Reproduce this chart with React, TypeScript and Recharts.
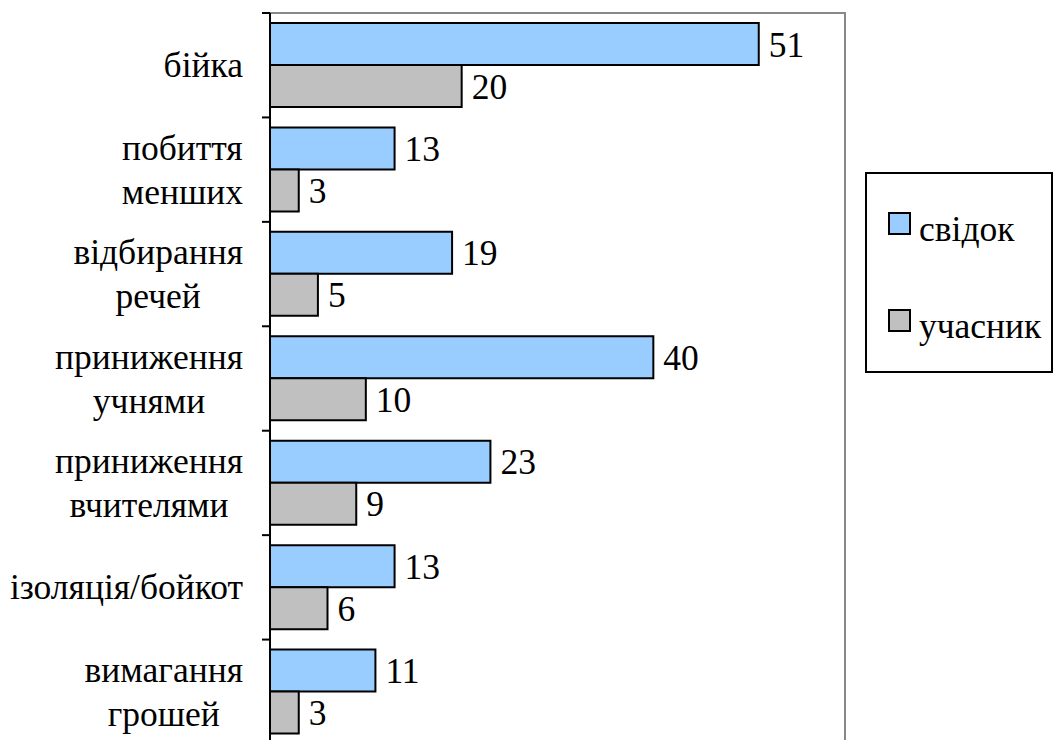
import React from 'react';
import { BarChart, Bar, XAxis, YAxis, LabelList, ReferenceArea } from 'recharts';

const categories = [
  'бійка',
  'побиття\nменших',
  'відбирання\nречей',
  'приниження\nучнями',
  'приниження\nвчителями',
  'ізоляція/бойкот',
  'вимагання\nгрошей',
];
const witness = [51, 13, 19, 40, 23, 13, 11];
const participant = [20, 3, 5, 10, 9, 6, 3];
const seriesNames = ['свідок', 'учасник'];
const seriesColors = ['#99CCFF', '#C0C0C0'];
const xDomain = [0, 60];

const data = categories.map((c, i) => ({ name: c, witness: witness[i], participant: participant[i] }));

const FONT = '"Times New Roman", Tinos, "Liberation Serif", serif';
const FS = 35.5;

const CatTick = (props: any) => {
  const { x, y, payload } = props;
  const lines = String(payload.value).split('\n');
  const lh = 44;
  const half = payload.offset ?? 52;
  const top = y - half;
  const boxH = lines.length * lh;
  return (
    <g>
      <line x1={x - 8} x2={x} y1={top} y2={top} stroke="#000" strokeWidth={2} />
      <foreignObject x={0} y={y - boxH / 2} width={x - 27} height={boxH}>
        <div
          style={{
            display: 'flex',
            justifyContent: 'flex-end',
            fontFamily: FONT,
            fontSize: FS,
            lineHeight: `${lh}px`,
            color: '#000',
          }}
        >
          <div style={{ textAlign: 'center', whiteSpace: 'nowrap' }}>
            {lines.map((l, i) => (
              <div key={i}>{l}</div>
            ))}
          </div>
        </div>
      </foreignObject>
    </g>
  );
};

const Legend = () => (
  <div
    style={{
      position: 'absolute',
      left: 865,
      top: 172,
      width: 188,
      height: 201,
      boxSizing: 'border-box',
      border: '2px solid #000',
      background: '#fff',
      fontFamily: FONT,
      fontSize: FS,
      lineHeight: 1,
    }}
  >
    {seriesNames.map((n, i) => (
      <React.Fragment key={n}>
        <div
          style={{
            position: 'absolute',
            left: 21,
            top: 38 + i * 97,
            width: 23,
            height: 23,
            boxSizing: 'border-box',
            border: '2px solid #000',
            background: seriesColors[i],
          }}
        />
        <div style={{ position: 'absolute', left: 52, top: 38 + i * 97, whiteSpace: 'nowrap' }}>{n}</div>
      </React.Fragment>
    ))}
  </div>
);

export default function App() {
  return (
    <div
      style={{
        position: 'absolute',
        left: 0,
        top: 0,
        width: 1061,
        height: 740,
        overflow: 'hidden',
        background: '#fff',
        fontFamily: FONT,
      }}
    >
      <BarChart
        width={1061}
        height={760}
        data={data}
        layout="vertical"
        margin={{ top: 13, right: 216, bottom: 16, left: 0 }}
        barCategoryGap={10}
        barGap={0}
      >
        <XAxis type="number" domain={xDomain} hide />
        <YAxis
          type="category"
          dataKey="name"
          width={270}
          tickLine={false}
          tickSize={0}
          tickMargin={0}
          axisLine={{ stroke: '#000', strokeWidth: 2 }}
          tick={<CatTick />}
          interval={0}
        />
        <ReferenceArea x1={0} x2={60} fill="none" stroke="#888" strokeWidth={2} ifOverflow="visible" />
        <Bar dataKey="witness" name={seriesNames[0]} fill={seriesColors[0]} stroke="#000" strokeWidth={2} isAnimationActive={false}>
          <LabelList dataKey="witness" position="right" offset={10} fill="#000" fontSize={FS} fontFamily={FONT} />
        </Bar>
        <Bar dataKey="participant" name={seriesNames[1]} fill={seriesColors[1]} stroke="#000" strokeWidth={2} isAnimationActive={false}>
          <LabelList dataKey="participant" position="right" offset={10} fill="#000" fontSize={FS} fontFamily={FONT} />
        </Bar>
      </BarChart>
      <Legend />
    </div>
  );
}
